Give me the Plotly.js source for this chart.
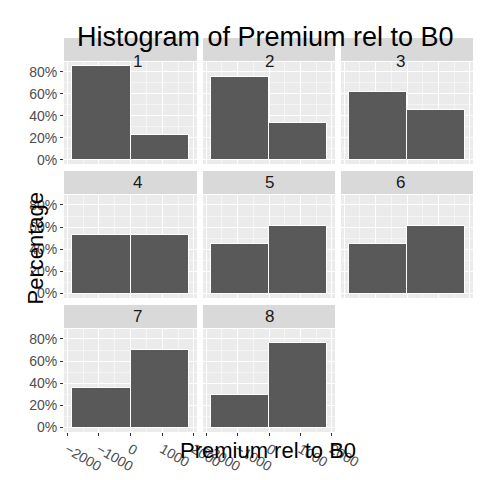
<!DOCTYPE html>
<html>
<head>
<script src="https://cdn.plot.ly/plotly-3.0.1.min.js"></script>
<style>body{margin:0}</style>
</head>
<body>
<div id="chart" style="width:480px;height:480px"></div>
<script>
// histogram bins (centres) and percentages per panel
const panels = ['1', '2', '3', '4', '5', '6', '7', '8'];
const binCentres = [-925, 925];
const binWidth = 1850;
const pctLeft = [85, 75, 62, 53, 45, 45, 36, 29];
const pctRight = [22, 33, 45, 53, 61, 61, 70, 76];

const W = 480, H = 480;
const cols = [[64, 197], [203, 335], [341, 473]];
const rows = [{strip: [38, 61], plot: [62, 164]}, {strip: [171, 194], plot: [195, 298]}, {strip: [305, 328], plot: [329, 432]}];

var data = [];
var layout = {
    width: W, height: H,
    margin: {l: 0, r: 0, t: 0, b: 0},
    paper_bgcolor: 'white',
    showlegend: false,
    bargap: 0,
    shapes: [],
    annotations: [
        {text: 'Histogram of Premium rel to B0', x: 265 / W, y: 1 - 20 / H, xref: 'paper', yref: 'paper', showarrow: false, font: {size: 27, color: 'black', family: 'Liberation Sans'}},
        {text: 'Premium rel to B0', x: 268 / W, y: 1 - 465 / H, xref: 'paper', yref: 'paper', showarrow: false, font: {size: 22, color: 'black', family: 'Liberation Sans'}},
        {text: 'Percentage', x: 20 / W, y: 1 - 248 / H, xref: 'paper', yref: 'paper', showarrow: false, textangle: -90, font: {size: 22, color: 'black', family: 'Liberation Sans'}}
    ]
};

panels.forEach((p, i) => {
    const r = Math.floor(i / 3), c = i % 3;
    const n = i === 0 ? '' : String(i + 1);
    const col = cols[c], row = rows[r];
    data.push({
        type: 'bar',
        x: binCentres,
        y: [pctLeft[i], pctRight[i]],
        width: [binWidth, binWidth],
        marker: {color: '#595959', line: {color: 'white', width: 1}},
        xaxis: 'x' + n, yaxis: 'y' + n,
        hoverinfo: 'x+y'
    });
    const bottom = (i >= 6);
    layout['xaxis' + n] = {
        domain: [col[0] / W, col[1] / W],
        anchor: 'y' + n,
        range: [-2100, 2100],
        tickvals: [-2000, -1000, 0, 1000, 2000],
        showticklabels: bottom,
        ticks: bottom ? 'outside' : '', ticklen: 3, tickcolor: '#333',
        tickfont: {size: 14, color: '#4d4d4d', family: 'Liberation Sans'},
        gridcolor: 'white', gridwidth: 1.2,
        minor: {dtick: 500, tick0: -500, gridcolor: '#f5f5f5', gridwidth: 0.6, showgrid: true},
        zeroline: false, showline: false, fixedrange: true
    };
    layout['yaxis' + n] = {
        domain: [1 - row.plot[1] / H, 1 - row.plot[0] / H],
        anchor: 'x' + n,
        range: [-4, 89],
        tickvals: [0, 20, 40, 60, 80],
        ticktext: ['0%', '20%', '40%', '60%', '80%'],
        showticklabels: c === 0,
        ticks: c === 0 ? 'outside' : '', ticklen: 3, tickcolor: '#333',
        tickfont: {size: 14, color: '#4d4d4d', family: 'Liberation Sans'},
        gridcolor: 'white', gridwidth: 1.2,
        minor: {dtick: 10, tick0: 10, gridcolor: '#f5f5f5', gridwidth: 0.6, showgrid: true},
        zeroline: false, showline: false, fixedrange: true
    };
    layout[('xaxis' + n)].plot_bgcolor = undefined;
    // panel background
    layout.shapes.push({type: 'rect', xref: 'paper', yref: 'paper', layer: 'below',
        x0: col[0] / W, x1: col[1] / W, y0: 1 - row.plot[1] / H, y1: 1 - row.plot[0] / H,
        fillcolor: '#ebebeb', line: {width: 0}});
    // strip
    layout.shapes.push({type: 'rect', xref: 'paper', yref: 'paper',
        x0: col[0] / W, x1: col[1] / W, y0: 1 - row.strip[1] / H, y1: 1 - row.strip[0] / H,
        fillcolor: '#d9d9d9', line: {width: 0}});
    layout.annotations.push({text: p, xref: 'paper', yref: 'paper', showarrow: false,
        x: (col[0] + col[1]) / 2 / W, y: 1 - (row.strip[0] + row.strip[1]) / 2 / H,
        font: {size: 17, color: '#1a1a1a', family: 'Liberation Sans'}});
});
layout.plot_bgcolor = 'rgba(0,0,0,0)';

Plotly.newPlot('chart', data, layout, {displayModeBar: false});
</script>
</body>
</html>
